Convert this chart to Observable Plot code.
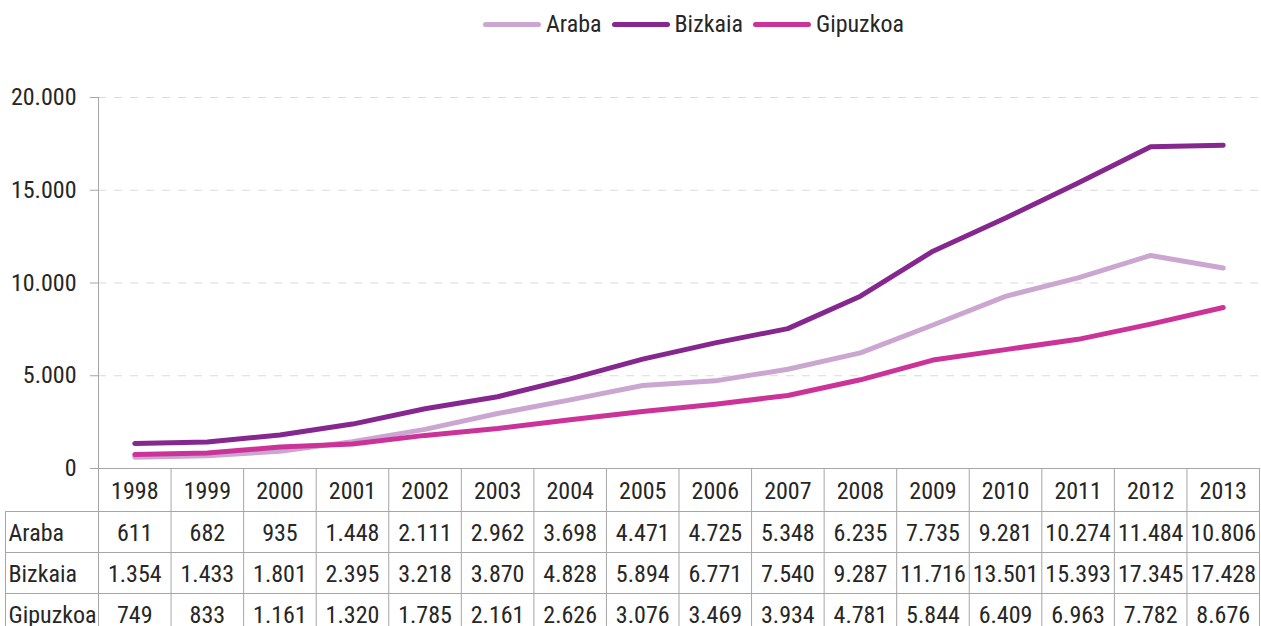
<!DOCTYPE html>
<html><head><meta charset="utf-8">
<script src="https://cdn.jsdelivr.net/npm/d3@7"></script>
<script src="https://cdn.jsdelivr.net/npm/@observablehq/plot@0.6"></script>
<style>
body{margin:0;background:#fff;font-family:"Roboto Condensed","Roboto",sans-serif;color:#262626}
#legend{height:48px;display:flex;align-items:center;justify-content:flex-start;padding-left:483px;font-size:24px;box-sizing:border-box}
.item{display:flex;align-items:center;margin-right:10px}
.sw{width:58px;height:5px;border-radius:3px;margin-right:5px}
</style></head><body>
<div id="legend"></div><div id="chart"></div>
<script>
const years = [1998,1999,2000,2001,2002,2003,2004,2005,2006,2007,2008,2009,2010,2011,2012,2013];
const seriesNames = ["Araba","Bizkaia","Gipuzkoa"];
const araba = [611,682,935,1448,2111,2962,3698,4471,4725,5348,6235,7735,9281,10274,11484,10806];
const bizkaia = [1354,1433,1801,2395,3218,3870,4828,5894,6771,7540,9287,11716,13501,15393,17345,17428];
const gipuzkoa = [749,833,1161,1320,1785,2161,2626,3076,3469,3934,4781,5844,6409,6963,7782,8676];
const colors = ["#cba6d1","#86278f","#cc3399"];
const yTicks = [0,5000,10000,15000,20000];

const seriesValues = [araba, bizkaia, gipuzkoa];
const tidy = seriesNames.flatMap((s,i)=>years.map((y,j)=>({series:s, year:y, value:seriesValues[i][j]})));
const fmt = d3.formatLocale({decimal:",", thousands:".", grouping:[3], currency:["",""]}).format(",d");
const bounds = [years[0]-0.5, ...years.map(y=>y+0.5)];
const font = '"Roboto Condensed","Roboto",sans-serif';
const gridColor = "#a6a6a6";
const rowDy = [72,113,154];
const lineDy = [43,84,125];
const fs = 24;

// legend
const lg = document.getElementById("legend");
seriesNames.forEach((s,i)=>{
  const it = document.createElement("div"); it.className="item";
  const sw = document.createElement("span"); sw.className="sw"; sw.style.background=colors[i];
  const t = document.createElement("span"); t.textContent=s;
  it.appendChild(sw); it.appendChild(t); lg.appendChild(it);
});

const marks = [
  Plot.ruleY(yTicks.slice(1), {stroke:"#d9d9d9", strokeDasharray:"8,8", insetRight:-2}),
  Plot.axisY({ticks:yTicks, tickFormat:fmt, tickSize:8, tickPadding:14, stroke:gridColor, fontSize:fs, label:null}),
  Plot.ruleX([bounds[0]], {y1:20000, y2:0, insetBottom:-170, stroke:gridColor}),
  Plot.ruleX(bounds.slice(1), {y1:0, y2:0, insetBottom:-170, stroke:gridColor}),
  Plot.ruleX([bounds[0]], {y1:0, y2:0, insetTop:43, insetBottom:-170, dx:-93, stroke:gridColor}),
  Plot.ruleY([0], {stroke:gridColor}),
  ...lineDy.map(d=>Plot.ruleY([0], {dy:d, insetLeft:-93, stroke:gridColor})),
  Plot.text(years, {x:d=>d, text:d=>String(d), frameAnchor:"bottom", dy:30, fontSize:fs}),
  ...seriesNames.flatMap((s,i)=>[
    Plot.text(tidy.filter(r=>r.series===s), {x:"year", text:d=>fmt(d.value), frameAnchor:"bottom", dy:rowDy[i], fontSize:fs}),
    Plot.text([s], {text:d=>d, frameAnchor:"bottom-left", dx:-90, dy:rowDy[i], textAnchor:"start", fontSize:fs})
  ]),
  Plot.line(tidy, {x:"year", y:"value", stroke:"series", strokeWidth:5, strokeLinejoin:"round", strokeLinecap:"round"})
];

const chart = Plot.plot({
  width:1261, height:578, marginLeft:98, marginRight:2, marginTop:49, marginBottom:158,
  x:{domain:[bounds[0], bounds[bounds.length-1]], axis:null},
  y:{domain:[0,20000], axis:null},
  color:{domain:seriesNames, range:colors},
  style:{fontFamily:font, fontSize:fs+"px", color:"#262626", background:"#fff", overflow:"visible"},
  marks
});
document.getElementById("chart").appendChild(chart);
</script>
</body></html>
